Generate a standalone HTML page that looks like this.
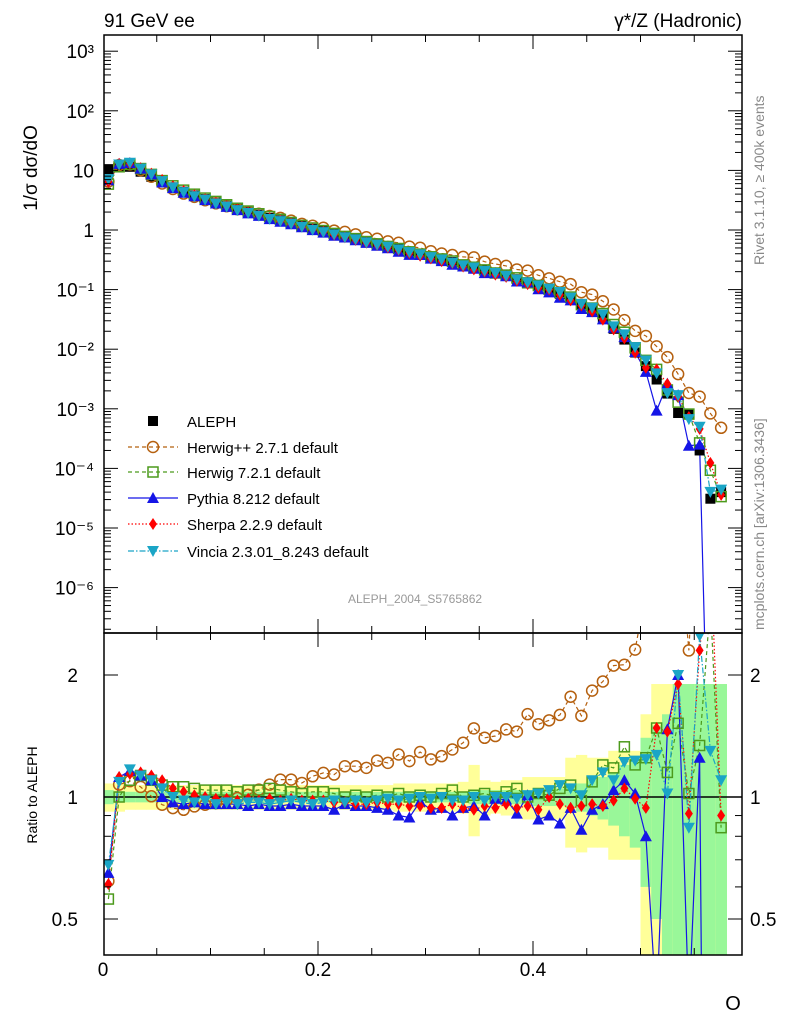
<!DOCTYPE html>
<html><head><meta charset="utf-8"><style>
html,body{margin:0;background:#fff;overflow:hidden;width:786px;height:1024px;}
svg{font-family:"Liberation Sans",sans-serif;display:block;}
</style></head><body>
<svg id="c" width="786" height="1024" xmlns="http://www.w3.org/2000/svg">
<defs>
<clipPath id="cm"><rect x="104" y="35" width="638" height="598"/></clipPath>
<clipPath id="cr"><rect x="104" y="633" width="638" height="322"/></clipPath>
</defs>
<g id="bands" clip-path="url(#cr)"></g>
<g id="mainMarks" clip-path="url(#cm)"></g>
<g id="ratioMarks" clip-path="url(#cr)"></g>
<g id="axes"></g>
<text x="104" y="27" font-size="19">91 GeV ee</text>
<text x="742" y="27" font-size="19" text-anchor="end">γ*/Z (Hadronic)</text>
<text transform="translate(764,265) rotate(-90)" font-size="14" fill="#888">Rivet 3.1.10, ≥ 400k events</text>
<text transform="translate(764,630) rotate(-90)" font-size="14" fill="#888">mcplots.cern.ch [arXiv:1306.3436]</text>
<text x="415" y="603" font-size="12" fill="#999" text-anchor="middle">ALEPH_2004_S5765862</text>
<text transform="translate(37,168) rotate(-90)" font-size="19" text-anchor="middle">1/σ  dσ/dO</text>
<text transform="translate(37,795) rotate(-90)" font-size="14" text-anchor="middle">Ratio to ALEPH</text>
<text x="733" y="1010" font-size="20" text-anchor="middle">O</text>
<g id="legend"></g>
</svg>
<script>
const xs = [0.005,0.015,0.025,0.035,0.045,0.055,0.065,0.075,0.085,0.095,0.105,0.115,0.125,0.135,0.145,0.155,0.165,0.175,0.185,0.195,0.205,0.215,0.225,0.235,0.245,0.255,0.265,0.275,0.285,0.295,0.305,0.315,0.325,0.335,0.345,0.355,0.365,0.375,0.385,0.395,0.405,0.415,0.425,0.435,0.445,0.455,0.465,0.475,0.485,0.495,0.505,0.515,0.525,0.535,0.545,0.555,0.565,0.575];
const aleph = [10.5,11.5,11.5,9.5,7.8,6.3,5.2,4.4,3.8,3.3,2.9,2.55,2.25,2.0,1.8,1.6,1.45,1.3,1.17,1.05,0.95,0.86,0.78,0.71,0.64,0.58,0.53,0.48,0.43,0.39,0.355,0.32,0.29,0.26,0.235,0.21,0.19,0.17,0.15,0.13,0.115,0.1,0.085,0.07,0.057,0.045,0.033,0.022,0.0145,0.0088,0.0052,0.0031,0.0018,0.00085,0.0008,0.0002,0.000031,0.00004];
const totErr = [0.08,0.08,0.07,0.07,0.07,0.07,0.07,0.07,0.07,0.07,0.07,0.07,0.07,0.07,0.07,0.07,0.07,0.07,0.07,0.07,0.07,0.07,0.07,0.07,0.07,0.07,0.07,0.08,0.08,0.08,0.08,0.08,0.08,0.09,0.2,0.1,0.09,0.1,0.1,0.12,0.12,0.12,0.12,0.25,0.27,0.25,0.25,0.3,0.3,0.3,0.6,0.9,0.9,0.9,0.9,0.9,0.9,0.9];
const statErr = [0.04,0.03,0.03,0.03,0.03,0.03,0.03,0.03,0.03,0.03,0.03,0.03,0.03,0.03,0.03,0.03,0.03,0.03,0.03,0.03,0.03,0.03,0.03,0.03,0.03,0.03,0.03,0.03,0.03,0.03,0.03,0.03,0.03,0.03,0.04,0.04,0.04,0.04,0.04,0.04,0.05,0.05,0.05,0.06,0.08,0.1,0.12,0.15,0.2,0.25,0.4,0.5,0.6,0.9,0.9,0.9,0.9,0.9];
const rHerwigpp = [0.62,1.073,1.094,1.059,1.004,0.957,0.939,0.930,0.948,0.957,0.966,0.981,0.994,1.013,1.043,1.073,1.104,1.104,1.083,1.125,1.147,1.136,1.191,1.191,1.180,1.230,1.214,1.273,1.226,1.291,1.238,1.261,1.310,1.361,1.477,1.400,1.414,1.468,1.450,1.601,1.512,1.546,1.594,1.768,1.586,1.830,1.928,2.11,2.12,2.31,3.2,3.6,4.1,4.5,2.3,8,27,12];
const rHerwig7 = [0.56,1.0,1.10,1.13,1.10,1.07,1.06,1.06,1.05,1.04,1.04,1.04,1.03,1.04,1.04,1.05,1.04,1.03,1.02,1.03,1.03,1.02,1.00,1.01,1.00,1.01,1.00,1.02,1.00,1.01,1.00,1.02,1.04,1.00,1.01,1.02,1.00,1.03,1.05,1.00,1.02,1.01,1.05,1.07,0.98,1.09,1.2,1.18,1.33,1.2,1.25,1.48,1.15,1.52,1.02,1.34,3.0,0.84];
const rPythia = [0.65,1.12,1.16,1.13,1.10,1.0,0.97,0.96,0.97,0.96,0.96,0.96,0.96,0.95,0.96,0.95,0.95,0.96,0.95,0.95,0.95,0.93,0.96,0.95,0.95,0.94,0.93,0.90,0.89,0.975,0.93,0.94,0.90,0.94,0.95,0.90,0.99,0.985,0.91,1.01,0.88,0.90,0.86,0.94,0.83,0.93,0.96,1.04,1.10,1.02,0.80,0.3,1.47,2.0,0.3,1.25,0.000001,0.000001];
const rSherpa = [0.61,1.12,1.14,1.15,1.13,1.10,1.05,1.03,1.01,1.00,0.99,0.99,0.98,0.99,0.98,0.99,0.98,0.99,0.98,0.98,0.98,0.97,0.97,0.96,0.96,0.97,0.96,0.96,0.95,0.95,0.94,0.94,0.96,0.94,0.93,0.95,0.94,0.96,0.94,0.95,0.93,1.0,0.96,0.94,0.95,0.96,0.95,0.98,1.05,0.99,0.94,1.48,1.45,1.9,0.91,2.3,4.0,0.9];
const rVincia = [0.68,1.09,1.17,1.13,1.10,1.05,1.0,0.98,0.97,0.98,0.96,0.97,0.96,0.97,0.97,0.96,0.97,0.98,0.97,0.96,0.97,0.98,0.97,0.98,0.97,0.98,0.99,0.98,0.99,1.0,0.99,1.0,0.98,0.98,1.0,0.98,1.0,1.0,0.99,1.01,1.02,1.04,1.07,1.05,1.01,1.10,1.15,1.1,1.22,1.23,1.24,1.27,1.02,2.0,0.84,2.5,1.3,1.1];
const yTicksMain = [3,2,1,0,-1,-2,-3,-4,-5,-6];
const yTickLabelsMain = ["10³","10²","10","1","10⁻¹","10⁻²","10⁻³","10⁻⁴","10⁻⁵","10⁻⁶"];
const xTicks = [0,0.2,0.4];
const xTickLabels = ["0","0.2","0.4"];
const rTicks = [2,1,0.5];
const rTickLabels = ["2","1","0.5"];

const NS="http://www.w3.org/2000/svg";
const X = v => 103 + v*1075;
const Y = v => 230 - 59.6*Math.log10(Math.max(v,1e-12));
const R = v => 797 - 122*Math.log2(Math.max(v,1e-3));
function mk(tag, attrs, parent){const e=document.createElementNS(NS,tag);for(const k in attrs)e.setAttribute(k,attrs[k]);parent.appendChild(e);return e;}
const axes=document.getElementById('axes');
const bands=document.getElementById('bands');
const mm=document.getElementById('mainMarks');
const rm=document.getElementById('ratioMarks');
const hw = 0.005*1075;

xs.forEach((x,i)=>{
  let b=mk('rect',{x:X(x)-hw,y:R(1+totErr[i]),width:2*hw+0.5,height:R(1-totErr[i])-R(1+totErr[i]),fill:'#ffff99'},bands);
  
  
  let g=mk('rect',{x:X(x)-hw,y:R(1+statErr[i]),width:2*hw+0.5,height:R(1-statErr[i])-R(1+statErr[i]),fill:'#99f799'},bands);
  
  
});
let one=mk('line',{x1:104,x2:742,y1:R(1),y2:R(1),stroke:'#000','stroke-width':1.5},rm);



function marker(type,cx,cy,color,parent,name){
  let e;
  if(type==='sq') e=mk('rect',{x:cx-5,y:cy-5,width:10,height:10,fill:'#000'},parent);
  else if(type==='circ') e=mk('circle',{cx:cx,cy:cy,r:5.5,fill:'none',stroke:color,'stroke-width':1.5},parent);
  else if(type==='osq') e=mk('rect',{x:cx-5,y:cy-5,width:10,height:10,fill:'none',stroke:color,'stroke-width':1.5},parent);
  else if(type==='tri') e=mk('polygon',{points:`${cx},${cy-6} ${cx-6},${cy+5} ${cx+6},${cy+5}`,fill:color},parent);
  else if(type==='dia') e=mk('polygon',{points:`${cx},${cy-6} ${cx-4},${cy} ${cx},${cy+6} ${cx+4},${cy}`,fill:color},parent);
  else if(type==='dtri') e=mk('polygon',{points:`${cx-6},${cy-5} ${cx+6},${cy-5} ${cx},${cy+6}`,fill:color},parent);
  
  
  return e;
}
const series=[
 {name:'herwigpp',r:rHerwigpp,color:'#b5600f',type:'circ',dash:'4,3'},
 {name:'herwig7',r:rHerwig7,color:'#4c9a1c',type:'osq',dash:'4,3'},
 {name:'pythia',r:rPythia,color:'#1515e6',type:'tri',dash:''},
 {name:'sherpa',r:rSherpa,color:'#ff0000',type:'dia',dash:'1.5,2'},
 {name:'vincia',r:rVincia,color:'#1aa5c6',type:'dtri',dash:'6,2,1.5,2'},
];
series.forEach(s=>{
  const mp=xs.map((x,i)=>`${X(x).toFixed(1)},${Math.min(Y(aleph[i]*s.r[i]),2000).toFixed(1)}`).join(' ');
  let l=mk('polyline',{points:mp,fill:'none',stroke:s.color,'stroke-width':1.2,'stroke-dasharray':s.dash},mm);
  
  
  const rp=xs.map((x,i)=>`${X(x).toFixed(1)},${R(s.r[i]).toFixed(1)}`).join(' ');
  let l2=mk('polyline',{points:rp,fill:'none',stroke:s.color,'stroke-width':1.2,'stroke-dasharray':s.dash},rm);
  
  
});
xs.forEach((x,i)=>marker('sq',X(x),Y(aleph[i]),'#000',mm,'aleph-point'));
series.forEach(s=>{
  xs.forEach((x,i)=>{
    marker(s.type,X(x),Y(aleph[i]*s.r[i]),s.color,mm,s.name+'-point');
    marker(s.type,X(x),R(s.r[i]),s.color,rm,s.name+'-ratio-point');
  });
});

[[104,35,638,598],[104,633,638,322]].forEach(f=>{
  let r=mk('rect',{x:f[0],y:f[1],width:f[2],height:f[3],fill:'none',stroke:'#000','stroke-width':1.5},axes);
  
  
});
for(let d=-7;d<=3;d++){
  for(let m=1;m<10;m++){
    const v=m*Math.pow(10,d);const y=Y(v);
    if(y<35||y>633)continue;
    const len=m===1?14:7;
    mk('line',{x1:104,x2:104+len,y1:y,y2:y,stroke:'#000'},axes);
    mk('line',{x1:742,x2:742-len,y1:y,y2:y,stroke:'#000'},axes);
  }
}
yTicksMain.forEach((d,i)=>{
  let t=mk('text',{x:94,y:Y(Math.pow(10,d))+7,'font-size':19,'text-anchor':'end'},axes);
  t.textContent=yTickLabelsMain[i];
  
  
});
[0.5,0.6,0.7,0.8,0.9,1,2].forEach(v=>{
  const len=(v===1||v===2||v===0.5)?14:7;
  mk('line',{x1:104,x2:104+len,y1:R(v),y2:R(v),stroke:'#000'},axes);
  mk('line',{x1:742,x2:742-len,y1:R(v),y2:R(v),stroke:'#000'},axes);
});
rTicks.forEach((v,i)=>{
  let t=mk('text',{x:78,y:R(v)+7,'font-size':19,'text-anchor':'end'},axes);
  t.textContent=rTickLabels[i];
  
  
  let t2=mk('text',{x:750,y:R(v)+7,'font-size':19},axes);
  t2.textContent=rTickLabels[i];
  
  
});
for(let k=0;k<=11;k++){
  const v=k*0.05;const x=X(v);if(x<104||x>742)continue;
  const len=k%4===0?14:7;
  [[35,1],[633,-1],[633,1],[955,-1]].forEach(p=>mk('line',{x1:x,x2:x,y1:p[0],y2:p[0]+p[1]*len,stroke:'#000'},axes));
}
xTicks.forEach((v,i)=>{
  let t=mk('text',{x:X(v),y:976,'font-size':19,'text-anchor':'middle'},axes);
  t.textContent=xTickLabels[i];
  
  
});
const lg=document.getElementById('legend');
const legNames=['ALEPH','Herwig++ 2.7.1 default','Herwig 7.2.1 default','Pythia 8.212 default','Sherpa 2.2.9 default','Vincia 2.3.01_8.243 default'];
const legY=[421,447,472,498,524,551];
legNames.forEach((n,i)=>{
  const y=legY[i];
  if(i===0){marker('sq',153,y,'#000',lg,'legend-marker');}
  else{
    const s=series[i-1];
    let l=mk('line',{x1:128,x2:178,y1:y,y2:y,stroke:s.color,'stroke-width':1.2,'stroke-dasharray':s.dash},lg);
    
    
    marker(s.type,153,y,s.color,lg,'legend-marker');
  }
  let t=mk('text',{x:187,y:y+6,'font-size':15},lg);
  t.textContent=n;
  
  
});
</script>
</body></html>
